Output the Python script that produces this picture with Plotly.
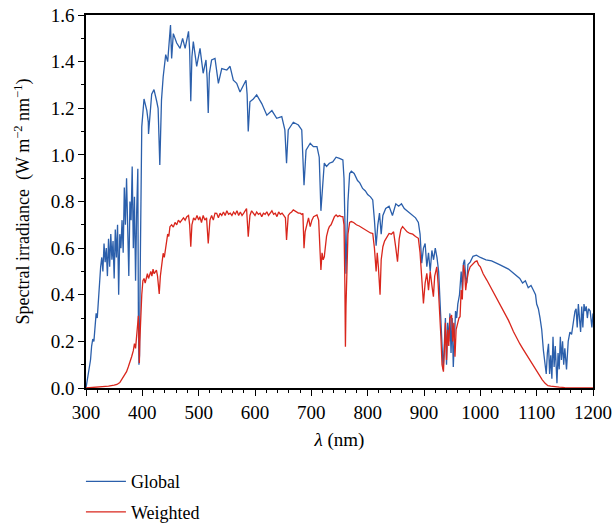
import plotly.graph_objects as go

# ---- Global spectrum (nm, W m^-2 nm^-1) ----
wl_global = [
    300, 303, 306, 308, 310, 312, 314, 316, 318, 320,
    322, 324, 326, 328, 330, 332, 334, 336, 338, 340,
    342, 344, 346, 348, 350, 352, 354, 356, 358, 360,
    362, 364, 366, 368, 370, 372, 374, 376, 378, 380,
    382, 384, 386, 388, 390, 392, 393, 394, 395, 396,
    398, 399, 403, 408, 410.6, 411, 416.6, 420.7, 425.5, 428,
    431, 434, 437, 441.5, 445, 450, 452, 455, 461, 467,
    471.5, 476, 482, 484, 486, 488, 490.5, 496.5, 502.4, 508,
    513, 515, 517, 519, 523, 529, 535, 541, 550, 555.7,
    561.5, 567.5, 573.4, 579, 584, 586, 588, 591, 597, 603,
    612, 621, 630, 638.5, 647.5, 653, 656, 659, 668, 677,
    683, 687, 690.6, 698, 703.6, 710, 714, 717, 720, 723,
    727, 732, 738, 744, 750, 756, 758, 760, 761.5, 763,
    765, 768, 771, 776, 782, 786, 791, 796, 800, 805,
    809, 812, 815, 818, 821, 824, 827, 832, 838, 844,
    850, 855, 860, 865, 870, 875, 880, 885, 890, 893,
    896, 899, 902, 905, 908, 911, 914, 917, 920, 923,
    926, 928, 930, 932, 934, 936, 938, 940, 942, 944,
    946, 948, 950, 952, 954, 956, 958, 960, 963, 966,
    968, 970, 972, 974, 976, 978, 982, 987, 993, 1000,
    1010, 1020, 1035, 1050, 1060, 1066, 1070, 1075, 1080, 1085,
    1090, 1094, 1098, 1100, 1103, 1106, 1109, 1112, 1115, 1117,
    1119, 1121, 1123, 1125, 1127, 1129, 1131, 1133, 1136, 1138,
    1140, 1142, 1144, 1146, 1148, 1150, 1153, 1156, 1159, 1162,
    1165, 1168, 1170, 1172, 1174, 1176, 1178, 1180, 1182, 1184,
    1186, 1188, 1190, 1192, 1195, 1198, 1200,
]
global_vals = [
    0.00, 0.04, 0.08, 0.12, 0.18, 0.21, 0.20, 0.28, 0.32, 0.30,
    0.38, 0.42, 0.52, 0.56, 0.50, 0.62, 0.54, 0.60, 0.48, 0.64,
    0.52, 0.66, 0.55, 0.63, 0.47, 0.68, 0.56, 0.70, 0.40, 0.66,
    0.60, 0.72, 0.58, 0.86, 0.70, 0.90, 0.62, 0.48, 0.80, 0.72,
    0.95, 0.60, 0.82, 0.46, 0.76, 0.94, 0.30, 0.10, 0.14, 0.45,
    0.90, 1.12, 1.24, 1.19, 1.14, 1.09, 1.26, 1.28, 1.23, 1.20,
    0.957, 1.235, 1.335, 1.43, 1.40, 1.557, 1.414, 1.52, 1.48, 1.457,
    1.50, 1.457, 1.53, 1.45, 1.23, 1.42, 1.486, 1.38, 1.457, 1.35,
    1.407, 1.33, 1.18, 1.35, 1.407, 1.414, 1.307, 1.37, 1.364, 1.38,
    1.32, 1.307, 1.27, 1.30, 1.32, 1.26, 1.10, 1.228, 1.24, 1.257,
    1.22, 1.17, 1.19, 1.157, 1.164, 1.107, 0.964, 1.107, 1.14, 1.128,
    1.107, 0.87, 1.02, 1.05, 1.035, 1.035, 0.99, 0.76, 0.86, 0.965,
    0.95, 0.964, 0.97, 0.99, 0.985, 0.978, 0.90, 0.60, 0.49, 0.64,
    0.80, 0.92, 0.93, 0.92, 0.89, 0.88, 0.856, 0.845, 0.83, 0.82,
    0.807, 0.72, 0.61, 0.70, 0.75, 0.66, 0.74, 0.77, 0.78, 0.74,
    0.79, 0.78, 0.79, 0.77, 0.76, 0.75, 0.74, 0.73, 0.71, 0.66,
    0.535, 0.60, 0.62, 0.52, 0.58, 0.50, 0.59, 0.55, 0.60, 0.56,
    0.50, 0.38, 0.25, 0.12, 0.08, 0.18, 0.30, 0.10, 0.28, 0.20,
    0.32, 0.15, 0.30, 0.09, 0.25, 0.33, 0.30, 0.36, 0.40, 0.50,
    0.42, 0.535, 0.55, 0.47, 0.45, 0.53, 0.54, 0.565, 0.57, 0.56,
    0.55, 0.545, 0.528, 0.51, 0.49, 0.48, 0.47, 0.45, 0.46, 0.43,
    0.44, 0.42, 0.40, 0.36, 0.34, 0.30, 0.25, 0.16, 0.08, 0.06,
    0.15, 0.19, 0.06, 0.14, 0.04, 0.22, 0.09, 0.18, 0.02, 0.15,
    0.08, 0.22, 0.12, 0.20, 0.10, 0.17, 0.08, 0.20, 0.24, 0.23,
    0.28, 0.33, 0.34, 0.26, 0.36, 0.30, 0.24, 0.35, 0.26, 0.36,
    0.33, 0.35, 0.30, 0.34, 0.33, 0.26, 0.32,
]

# ---- Weighted spectrum ----
wl_weighted = [
    300, 320, 340, 350, 355, 360, 364, 368, 372, 375,
    378, 381, 384, 386, 388, 390, 392, 393, 394, 394.7,
    395.5, 397, 399, 401, 403, 405, 407, 409, 411, 413,
    415, 417, 419, 421, 423, 425, 427, 429, 430, 432,
    434, 436, 437, 439, 441, 443, 445, 447, 449, 452,
    455, 458, 461, 464, 467, 470, 473, 476, 479, 482,
    484, 486, 488, 491, 494, 497, 500, 502, 505, 508,
    511, 514, 517, 520, 523, 526, 529, 532, 535, 538,
    541, 544, 547, 550, 553, 556, 559, 562, 565, 568,
    571, 574, 577, 580, 583, 585, 588, 591, 594, 597,
    600, 603, 606, 609, 612, 615, 618, 621, 624, 627,
    630, 633, 636, 639, 642, 645, 648, 651, 654, 656,
    659, 662, 665, 668, 671, 674, 677, 680, 683, 685,
    687, 689, 692, 695, 698, 701, 704, 707, 710, 713,
    715, 717, 719, 721, 723, 725, 727, 730, 732, 735,
    738, 741, 744, 747, 750, 753, 756, 758, 759.5, 760.5,
    761.5, 763, 765, 768, 771, 775, 780, 785, 791, 796,
    800, 805, 809, 812, 815, 817, 819, 822, 824, 827,
    830, 834, 838, 842, 846, 850, 853, 856, 859, 862,
    866, 870, 875, 880, 885, 890, 893, 896, 899, 902,
    905, 908, 911, 914, 916.7, 919, 922.7, 925, 928, 930,
    932, 934.5, 936, 938, 940, 942, 944, 946, 949, 951,
    953, 955, 957, 960, 962, 964, 966, 968, 970, 972,
    974, 976, 979, 982, 986, 991, 994, 997, 1000, 1005,
    1011.5, 1020, 1030, 1040, 1050, 1058.7, 1065, 1070, 1075, 1080,
    1085, 1090, 1094, 1100, 1105, 1110, 1115, 1120, 1125, 1130,
    1140, 1150, 1170, 1200,
]
weighted_vals = [
    0.000, 0.003, 0.008, 0.012, 0.015, 0.023, 0.040, 0.055, 0.070, 0.090,
    0.110, 0.134, 0.160, 0.190, 0.170, 0.220, 0.270, 0.310, 0.200, 0.107,
    0.200, 0.335, 0.400, 0.460, 0.470, 0.450, 0.480, 0.490, 0.470, 0.485,
    0.500, 0.480, 0.510, 0.490, 0.500, 0.506, 0.480, 0.420, 0.403, 0.480,
    0.520, 0.570, 0.578, 0.560, 0.600, 0.640, 0.660, 0.650, 0.692, 0.700,
    0.690, 0.710, 0.700, 0.720, 0.710, 0.720, 0.730, 0.720, 0.735, 0.740,
    0.700, 0.606, 0.700, 0.730, 0.720, 0.740, 0.720, 0.735, 0.710, 0.740,
    0.720, 0.730, 0.620, 0.720, 0.740, 0.720, 0.750, 0.749, 0.730, 0.750,
    0.740, 0.755, 0.740, 0.760, 0.745, 0.750, 0.740, 0.755, 0.745, 0.760,
    0.740, 0.755, 0.740, 0.750, 0.760, 0.770, 0.649, 0.740, 0.760, 0.750,
    0.740, 0.755, 0.745, 0.750, 0.735, 0.750, 0.745, 0.756, 0.740, 0.750,
    0.760, 0.745, 0.750, 0.735, 0.755, 0.745, 0.750, 0.740, 0.730, 0.635,
    0.740, 0.750, 0.755, 0.764, 0.760, 0.755, 0.750, 0.750, 0.745, 0.749,
    0.600, 0.670, 0.700, 0.730, 0.692, 0.720, 0.735, 0.740, 0.742, 0.720,
    0.620, 0.506, 0.580, 0.550, 0.563, 0.600, 0.650, 0.680, 0.692, 0.700,
    0.720, 0.735, 0.742, 0.735, 0.740, 0.735, 0.735, 0.700, 0.450, 0.177,
    0.350, 0.550, 0.660, 0.710, 0.714, 0.710, 0.700, 0.695, 0.685, 0.680,
    0.670, 0.665, 0.663, 0.600, 0.500, 0.580, 0.520, 0.400, 0.550, 0.606,
    0.630, 0.650, 0.663, 0.660, 0.670, 0.600, 0.542, 0.640, 0.680, 0.692,
    0.680, 0.670, 0.663, 0.660, 0.650, 0.642, 0.580, 0.450, 0.363, 0.450,
    0.492, 0.420, 0.500, 0.440, 0.392, 0.480, 0.520, 0.450, 0.330, 0.220,
    0.100, 0.070, 0.150, 0.280, 0.120, 0.250, 0.180, 0.300, 0.313, 0.200,
    0.280, 0.134, 0.250, 0.280, 0.300, 0.306, 0.420, 0.380, 0.528, 0.500,
    0.420, 0.460, 0.500, 0.520, 0.530, 0.542, 0.545, 0.528, 0.520, 0.490,
    0.463, 0.425, 0.380, 0.330, 0.290, 0.242, 0.210, 0.190, 0.170, 0.150,
    0.130, 0.115, 0.099, 0.075, 0.055, 0.035, 0.020, 0.010, 0.008, 0.006,
    0.004, 0.002, 0.001, 0.000,
]

x_ticks = [300, 400, 500, 600, 700, 800, 900, 1000, 1100, 1200]
y_ticks = [0.0, 0.2, 0.4, 0.6, 0.8, 1.0, 1.2, 1.4, 1.6]

BLUE = "#2b5fab"
RED = "#d9261c"
FONT = "Liberation Serif, DejaVu Serif, serif"

fig = go.Figure()
fig.add_trace(go.Scatter(x=wl_global, y=global_vals, mode="lines", name="Global",
                         legendgroup="g1", line=dict(color=BLUE, width=1.3)))
fig.add_trace(go.Scatter(x=wl_weighted, y=weighted_vals, mode="lines", name="Weighted",
                         legendgroup="g2", line=dict(color=RED, width=1.3)))

axis_common = dict(showline=True, linecolor="black", linewidth=1.5, mirror=True,
                   ticks="outside", ticklen=6, tickwidth=1.2, tickcolor="black",
                   showgrid=False, zeroline=False, automargin=False,
                   tickfont=dict(family=FONT, size=19, color="black"))

fig.update_xaxes(range=[300, 1200], tickvals=x_ticks,
                 ticktext=[str(v) for v in x_ticks],
                 minor=dict(ticks="outside", dtick=20, ticklen=3.5, tickwidth=1, tickcolor="black"),
                 title=dict(text="<i>λ</i> (nm)", font=dict(family=FONT, size=19, color="black"),
                            standoff=11),
                 **axis_common)
fig.update_yaxes(range=[0, 1.6], tickvals=y_ticks,
                 ticktext=[f"{v:.1f}" for v in y_ticks],
                 minor=dict(ticks="outside", dtick=0.1, ticklen=3.5, tickwidth=1, tickcolor="black"),
                 title=dict(text="Spectral irradiance  (W m<sup>−2</sup> nm<sup>−1</sup>)",
                            font=dict(family=FONT, size=18, color="black"), standoff=16),
                 **axis_common)

fig.update_layout(
    width=613, height=527,
    margin=dict(l=86, r=20, t=15, b=139, autoexpand=False),
    plot_bgcolor="white", paper_bgcolor="white",
    font=dict(family=FONT, size=18, color="black"),
    showlegend=True,
    legend=dict(x=-0.01, y=0.121, xref="paper", yref="container",
                xanchor="left", yanchor="top",
                font=dict(family=FONT, size=18, color="black"),
                bgcolor="rgba(0,0,0,0)", tracegroupgap=4, itemwidth=40),
)

fig.write_html("out.html")
